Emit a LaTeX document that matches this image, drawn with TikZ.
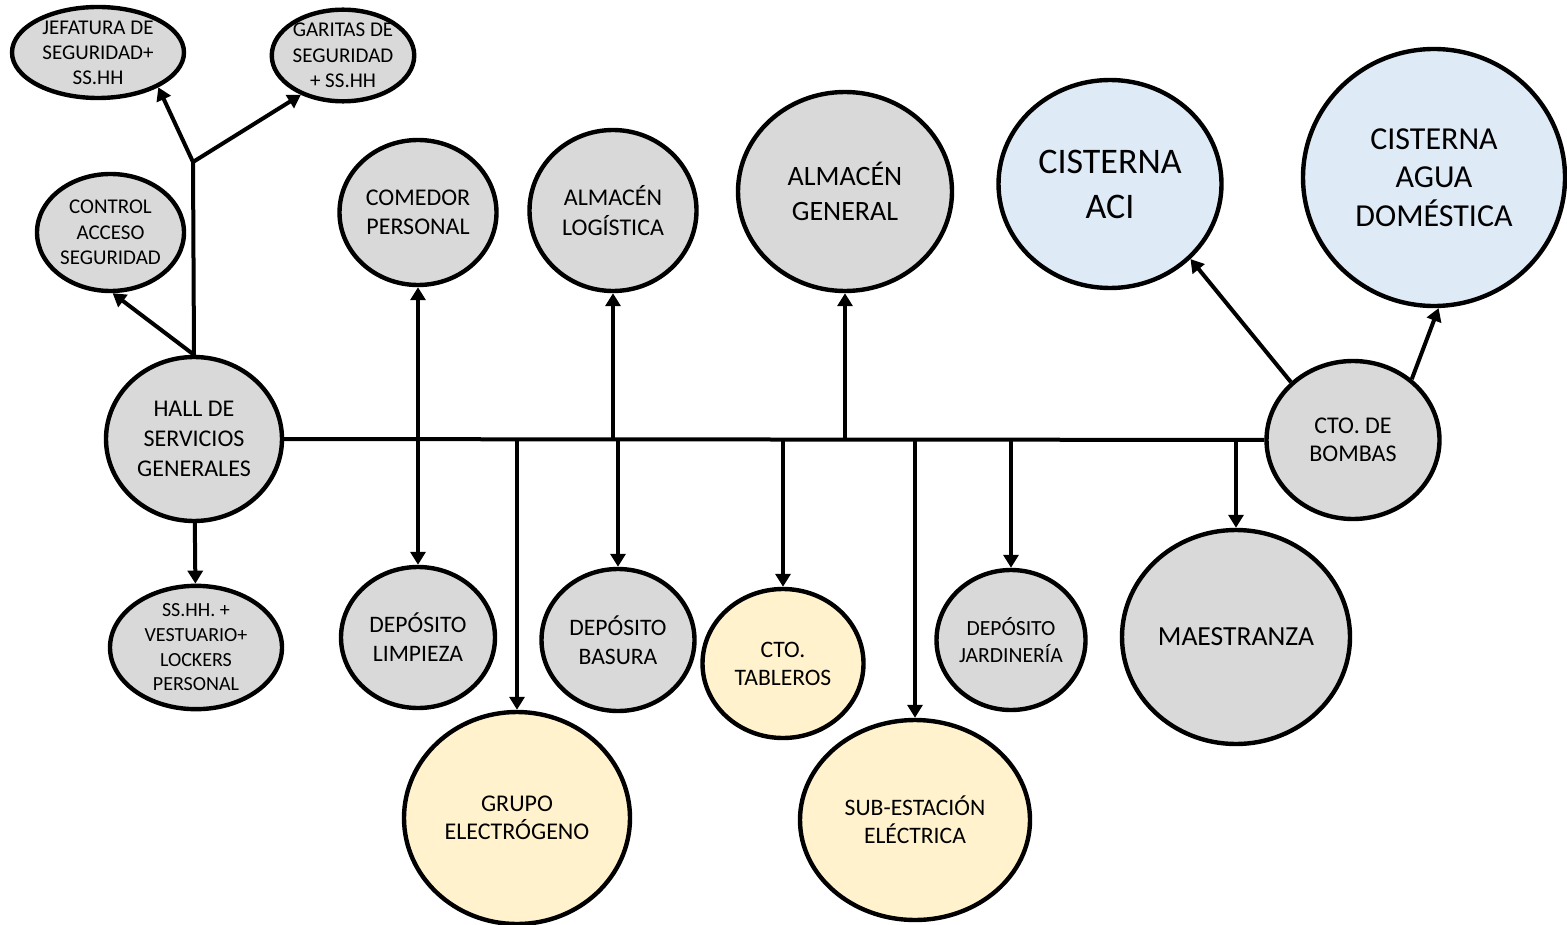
\documentclass[tikz,border=0pt]{standalone}
\usepackage{fontspec}
\setmainfont{Carlito}
\usepackage{tikz}
\usetikzlibrary{arrows.meta,shapes.geometric}
\definecolor{gris}{HTML}{D9D9D9}
\definecolor{crema}{HTML}{FFF2CC}
\definecolor{celeste}{HTML}{DEEBF7}
\newcommand{\fs}[2]{\fontsize{#1}{#2}\selectfont}

\begin{document}
\begin{tikzpicture}[x=0.5pt,y=-0.5pt,
    amb/.style={ellipse,draw,line width=2.2pt,fill=gris,inner sep=0pt,align=center},
    elec/.style={amb,fill=crema},
    agua/.style={amb,fill=celeste},
    lin/.style={line width=2pt},
    arr/.style={lin,-{Triangle[length=6.5pt,width=7.5pt]}},
    dbl/.style={lin,{Triangle[length=6.5pt,width=7.5pt]}-{Triangle[length=6.5pt,width=7.5pt]}}]
  \useasboundingbox (0,0) rectangle (1567,925);

  \node[amb,minimum width=86pt,minimum height=45.5pt,font=\fs{10.5}{12.5}] (jefatura) at (98,52.5) {JEFATURA DE\\SEGURIDAD+\\SS.HH};
  \node[amb,minimum width=62pt,minimum height=45.5pt,font=\fs{10.5}{12.75}] (garitas) at (343,55.5) {GARITAS DE\\SEGURIDAD\\+ SS.HH};
  \node[amb,minimum width=73.5pt,minimum height=58.5pt,font=\fs{10.5}{12.75}] (control) at (110.5,232.5) {CONTROL\\ACCESO\\SEGURIDAD};
  \node[amb,minimum width=88pt,minimum height=82pt,font=\fs{12}{15}] (hall) at (194,439) {HALL DE\\SERVICIOS\\GENERALES};
  \node[amb,minimum width=86pt,minimum height=60.5pt,font=\fs{10}{12.35}] (lockers) at (196,647.5) {SS.HH. +\\VESTUARIO+\\LOCKERS\\PERSONAL};

  \node[amb,minimum width=78.5pt,minimum height=72.5pt,font=\fs{12}{14.5}] (comedor) at (418,212.5) {COMEDOR\\PERSONAL};
  \node[amb,minimum width=83.5pt,minimum height=80.5pt,font=\fs{12}{15}] (logistica) at (613,210.5) {ALMACÉN\\LOGÍSTICA};
  \node[amb,minimum width=107pt,minimum height=99.5pt,font=\fs{14}{17.5}] (general) at (845,191.5) {ALMACÉN\\GENERAL};
  \node[agua,minimum width=111.5pt,minimum height=104pt,font=\fs{18}{22.5}] (aci) at (1110,184) {CISTERNA\\ACI};
  \node[agua,minimum width=131pt,minimum height=128.5pt,font=\fs{16}{19.25}] (domestica) at (1434,177.5) {CISTERNA\\AGUA\\DOMÉSTICA};
  \node[amb,minimum width=86.5pt,minimum height=79pt,font=\fs{12}{14}] (bombas) at (1353,440) {CTO. DE\\BOMBAS};

  \node[amb,minimum width=77pt,minimum height=70.5pt,font=\fs{11.8}{14.5}] (limpieza) at (418,637.5) {DEPÓSITO\\LIMPIEZA};
  \node[elec,minimum width=113pt,minimum height=106pt,font=\fs{12}{14}] (grupo) at (517,818) {GRUPO\\ELECTRÓGENO};
  \node[amb,minimum width=76.5pt,minimum height=71pt,font=\fs{11.8}{14.5}] (basura) at (618,640) {DEPÓSITO\\BASURA};
  \node[elec,minimum width=80.5pt,minimum height=74.5pt,font=\fs{11.8}{14}] (tableros) at (783,663.5) {CTO.\\TABLEROS};
  \node[elec,minimum width=115pt,minimum height=100pt,font=\fs{11.8}{14}] (subestacion) at (915,820) {SUB-ESTACIÓN\\ELÉCTRICA};
  \node[amb,minimum width=74.5pt,minimum height=70pt,font=\fs{10.8}{13.5}] (jardineria) at (1011,640) {DEPÓSITO\\JARDINERÍA};
  \node[amb,minimum width=114pt,minimum height=107pt,font=\fs{13.8}{16}] (maestranza) at (1236,637) {MAESTRANZA};

  \coordinate (fork) at (193,162);
  \coordinate (jgru) at (517,439);
  \coordinate (jlog) at (613,439);
  \coordinate (jbas) at (618,439);
  \coordinate (jtab) at (783,439);
  \coordinate (jgen) at (845,439);
  \coordinate (jsub) at (915,439);
  \coordinate (jjar) at (1011,439);
  \coordinate (jmae) at (1236,439);

  \draw[lin] (hall) -- (bombas);
  \draw[lin] (hall.north) -- (fork);
  \draw[arr] (fork) -- (jefatura.-30);
  \draw[arr] (fork) -- (garitas.-137);
  \draw[arr] (hall.north) -- (control.-88);
  \draw[arr] (hall) -- (lockers);
  \draw[dbl] (limpieza) -- (comedor);
  \draw[arr] (jlog) -- (logistica);
  \draw[arr] (jbas) -- (basura);
  \draw[arr] (jgru) -- (grupo);
  \draw[arr] (jtab) -- (tableros);
  \draw[arr] (jgen) -- (general);
  \draw[arr] (jsub) -- (subestacion);
  \draw[arr] (jjar) -- (jardineria);
  \draw[arr] (jmae) -- (maestranza);
  \draw[arr] (bombas.137) -- (aci.-43);
  \draw[arr] (bombas.46) -- (domestica.-88);
\end{tikzpicture}
\end{document}
